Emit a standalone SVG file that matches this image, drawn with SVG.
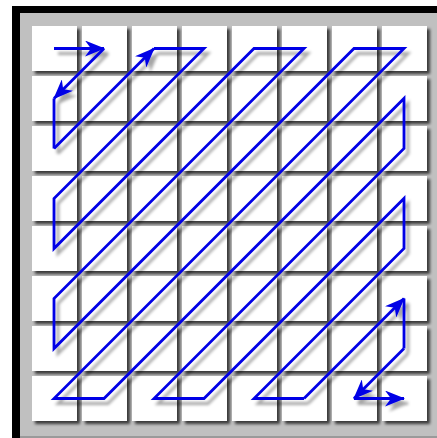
<svg xmlns="http://www.w3.org/2000/svg" width="437" height="438" viewBox="0 0 437 438">
<style>
.cell{fill:#ffffff}
.z{fill:none;stroke:#0000e6;stroke-width:2.8;stroke-linejoin:miter;stroke-linecap:butt}
</style>
<defs>
<filter id="cs" x="-20%" y="-20%" width="150%" height="150%">
<feDropShadow dx="3" dy="3" stdDeviation="1.6" flood-color="#000" flood-opacity="0.7"/>
</filter>
<filter id="ls" x="-10%" y="-10%" width="130%" height="130%">
<feDropShadow dx="4" dy="5" stdDeviation="1.5" flood-color="#000" flood-opacity="0.35"/>
</filter>
<marker id="ah" markerUnits="userSpaceOnUse" markerWidth="21" markerHeight="16" refX="19" refY="8" orient="auto" viewBox="0 0 21 16">
<path d="M0,0 L20,8 L0,16 L6,8 Z" fill="#0000e6"/>
</marker>
</defs>
<rect x="0" y="0" width="437" height="438" fill="#ffffff"/>
<rect x="12" y="6" width="425" height="432" fill="#000000"/>
<rect x="20" y="13" width="417" height="425" fill="#c0c0c0"/>
<rect x="20" y="436" width="417" height="2" fill="#9a9a9a"/>
<g id="grid" filter="url(#cs)">
<g id="r0"><rect class="cell" x="32" y="26" width="45" height="45"/><rect class="cell" x="82" y="26" width="45" height="45"/><rect class="cell" x="132" y="26" width="45" height="45"/><rect class="cell" x="182" y="26" width="45" height="45"/><rect class="cell" x="232" y="26" width="45" height="45"/><rect class="cell" x="282" y="26" width="45" height="45"/><rect class="cell" x="332" y="26" width="45" height="45"/><rect class="cell" x="382" y="26" width="45" height="45"/></g>
<g id="r1"><rect class="cell" x="32" y="76" width="45" height="45"/><rect class="cell" x="82" y="76" width="45" height="45"/><rect class="cell" x="132" y="76" width="45" height="45"/><rect class="cell" x="182" y="76" width="45" height="45"/><rect class="cell" x="232" y="76" width="45" height="45"/><rect class="cell" x="282" y="76" width="45" height="45"/><rect class="cell" x="332" y="76" width="45" height="45"/><rect class="cell" x="382" y="76" width="45" height="45"/></g>
<g id="r2"><rect class="cell" x="32" y="126" width="45" height="45"/><rect class="cell" x="82" y="126" width="45" height="45"/><rect class="cell" x="132" y="126" width="45" height="45"/><rect class="cell" x="182" y="126" width="45" height="45"/><rect class="cell" x="232" y="126" width="45" height="45"/><rect class="cell" x="282" y="126" width="45" height="45"/><rect class="cell" x="332" y="126" width="45" height="45"/><rect class="cell" x="382" y="126" width="45" height="45"/></g>
<g id="r3"><rect class="cell" x="32" y="176" width="45" height="45"/><rect class="cell" x="82" y="176" width="45" height="45"/><rect class="cell" x="132" y="176" width="45" height="45"/><rect class="cell" x="182" y="176" width="45" height="45"/><rect class="cell" x="232" y="176" width="45" height="45"/><rect class="cell" x="282" y="176" width="45" height="45"/><rect class="cell" x="332" y="176" width="45" height="45"/><rect class="cell" x="382" y="176" width="45" height="45"/></g>
<g id="r4"><rect class="cell" x="32" y="226" width="45" height="45"/><rect class="cell" x="82" y="226" width="45" height="45"/><rect class="cell" x="132" y="226" width="45" height="45"/><rect class="cell" x="182" y="226" width="45" height="45"/><rect class="cell" x="232" y="226" width="45" height="45"/><rect class="cell" x="282" y="226" width="45" height="45"/><rect class="cell" x="332" y="226" width="45" height="45"/><rect class="cell" x="382" y="226" width="45" height="45"/></g>
<g id="r5"><rect class="cell" x="32" y="276" width="45" height="45"/><rect class="cell" x="82" y="276" width="45" height="45"/><rect class="cell" x="132" y="276" width="45" height="45"/><rect class="cell" x="182" y="276" width="45" height="45"/><rect class="cell" x="232" y="276" width="45" height="45"/><rect class="cell" x="282" y="276" width="45" height="45"/><rect class="cell" x="332" y="276" width="45" height="45"/><rect class="cell" x="382" y="276" width="45" height="45"/></g>
<g id="r6"><rect class="cell" x="32" y="326" width="45" height="45"/><rect class="cell" x="82" y="326" width="45" height="45"/><rect class="cell" x="132" y="326" width="45" height="45"/><rect class="cell" x="182" y="326" width="45" height="45"/><rect class="cell" x="232" y="326" width="45" height="45"/><rect class="cell" x="282" y="326" width="45" height="45"/><rect class="cell" x="332" y="326" width="45" height="45"/><rect class="cell" x="382" y="326" width="45" height="45"/></g>
<g id="r7"><rect class="cell" x="32" y="376" width="45" height="45"/><rect class="cell" x="82" y="376" width="45" height="45"/><rect class="cell" x="132" y="376" width="45" height="45"/><rect class="cell" x="182" y="376" width="45" height="45"/><rect class="cell" x="232" y="376" width="45" height="45"/><rect class="cell" x="282" y="376" width="45" height="45"/><rect class="cell" x="332" y="376" width="45" height="45"/><rect class="cell" x="382" y="376" width="45" height="45"/></g>
</g>
<g id="connectors" filter="url(#ls)">
<line class="z" x1="54" y1="48.5" x2="104" y2="48.5" marker-end="url(#ah)"/>
<line class="z" x1="104" y1="48.5" x2="54" y2="98.5" marker-end="url(#ah)"/>
<line class="z" x1="54" y1="98.5" x2="54" y2="148.5"/>
<line class="z" x1="54" y1="148.5" x2="154" y2="48.5" marker-end="url(#ah)"/>
<path class="z" d="M154,48.5 L204,48.5 L54,198.5 L54,248.5 L254,48.5 L304,48.5 L54,298.5 L54,348.5 L354,48.5 L404,48.5 L54,398.5 L104,398.5 L404,98.5 L404,148.5 L154,398.5 L204,398.5 L404,198.5 L404,248.5 L254,398.5 L304,398.5"/>
<line class="z" x1="304" y1="398.5" x2="404" y2="298.5" marker-end="url(#ah)"/>
<line class="z" x1="404" y1="298.5" x2="404" y2="348.5"/>
<line class="z" x1="404" y1="348.5" x2="354" y2="398.5" marker-end="url(#ah)"/>
<line class="z" x1="354" y1="398.5" x2="404" y2="398.5" marker-end="url(#ah)"/>
</g>
</svg>
